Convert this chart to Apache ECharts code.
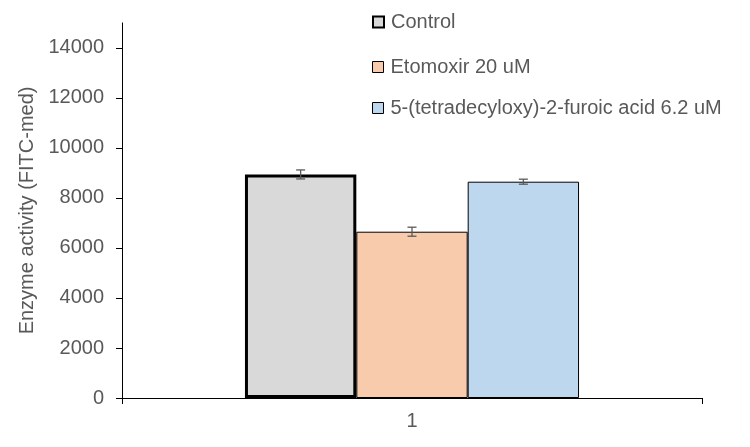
<!DOCTYPE html>
<html>
<head>
<meta charset="utf-8">
<script src="https://cdn.jsdelivr.net/npm/echarts@6/dist/echarts.min.js"></script>
<style>html,body{margin:0;padding:0;background:#fff}#c{width:750px;height:447px}</style>
</head>
<body>
<div id="c"></div>
<script>
const categories = ['1'];
const seriesNames = ['Control', 'Etomoxir 20 uM', '5-(tetradecyloxy)-2-furoic acid 6.2 uM'];
const values = [8940, 6650, 8650];
const errors = [180, 180, 100];
const colors = ['#d9d9d9', '#f8cbad', '#bdd7ee'];
const borderWidths = [3, 1, 1];
const yTicks = [0, 2000, 4000, 6000, 8000, 10000, 12000, 14000];

const BAR_FRAC = 0.192;
const font = '"Liberation Sans", Arial, sans-serif';
const legendTops = [7, 52, 93];

const chart = echarts.init(document.getElementById('c'), null, {renderer: 'canvas'});

const barSeries = seriesNames.map((name, i) => ({
  name: name,
  type: 'bar',
  data: [values[i]],
  barWidth: (BAR_FRAC * 100) + '%',
  barGap: '0%',
  itemStyle: {color: colors[i], borderColor: '#000', borderWidth: borderWidths[i]},
  emphasis: {disabled: true},
  z: 2
}));

const errSeries = seriesNames.map((name, i) => ({
  type: 'custom',
  name: name + ' err',
  z: 5,
  silent: true,
  data: [[0, values[i], errors[i]]],
  renderItem: function (params, api) {
    const band = api.size([1, 0])[0];
    const cx = api.coord([0, api.value(1)])[0] + (i - 1) * band * BAR_FRAC;
    const hi = api.coord([0, api.value(1) + api.value(2)])[1];
    const lo = api.coord([0, api.value(1) - api.value(2)])[1];
    const w = 4.5;
    const st = {stroke: '#595959', lineWidth: 1.3};
    return {type: 'group', children: [
      {type: 'line', shape: {x1: cx, y1: hi, x2: cx, y2: lo}, style: st},
      {type: 'line', shape: {x1: cx - w, y1: hi, x2: cx + w, y2: hi}, style: st},
      {type: 'line', shape: {x1: cx - w, y1: lo, x2: cx + w, y2: lo}, style: st}
    ]};
  }
}));

const legends = seriesNames.map((name, i) => ({
  data: [{name: name, itemStyle: {color: colors[i], borderColor: '#000', borderWidth: i === 0 ? 2 : 1}}],
  orient: 'vertical',
  left: 367,
  top: legendTops[i],
  itemWidth: 11,
  itemHeight: 11,
  icon: 'rect',
  textStyle: {fontFamily: font, fontSize: 20, lineHeight: 20, color: '#595959', padding: [0, 0, 0, 2]},
  selectedMode: false
}));

chart.setOption({
  animation: false,
  backgroundColor: '#fff',
  grid: {left: 122, right: 48, top: 22.9, bottom: 49, containLabel: false},
  legend: legends,
  xAxis: {
    type: 'category',
    data: categories,
    axisLine: {lineStyle: {color: '#000', width: 1}},
    axisTick: {show: true, length: 6, alignWithLabel: false, lineStyle: {color: '#000'}},
    axisLabel: {fontFamily: font, fontSize: 20, color: '#595959', margin: 13}
  },
  yAxis: {
    type: 'value',
    min: 0,
    max: 15000,
    interval: 2000,
    name: 'Enzyme activity (FITC-med)',
    nameLocation: 'middle',
    nameGap: 79,
    nameTextStyle: {fontFamily: font, fontSize: 20, color: '#595959'},
    splitLine: {show: false},
    axisLine: {show: true, lineStyle: {color: '#000', width: 1}},
    axisTick: {show: true, length: 6, lineStyle: {color: '#000'}},
    axisLabel: {
      fontFamily: font, fontSize: 20, color: '#595959', margin: 18,
      showMaxLabel: false,
      formatter: v => yTicks.indexOf(v) >= 0 ? String(v) : ''
    }
  },
  series: barSeries.concat(errSeries)
});
</script>
</body>
</html>
